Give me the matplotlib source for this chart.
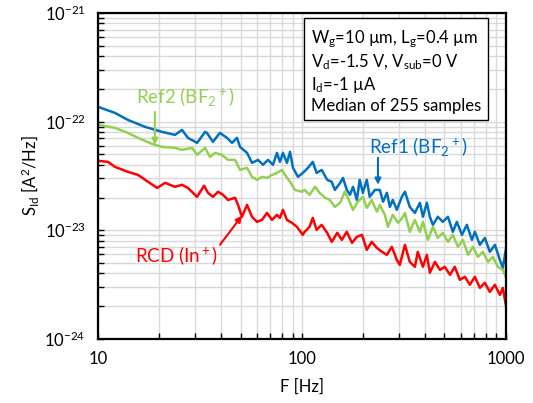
import matplotlib
matplotlib.use('Agg')
import matplotlib.pyplot as plt
import matplotlib.ticker as ticker
import numpy as np

plt.rcParams['font.family'] = ['Lato', 'DejaVu Sans']
plt.rcParams['mathtext.fontset'] = 'custom'
plt.rcParams['mathtext.rm'] = 'Lato'
plt.rcParams['mathtext.it'] = 'Lato'
plt.rcParams['mathtext.bf'] = 'Lato:bold'

# Ref1 (BF2+), blue
f_ref1 = [10, 12.1, 14.0, 17.0, 20.6, 23.85, 25.8, 27.6, 30.6, 33.5, 34.2, 36.6, 39.6, 42.9,
          45.4, 48.0, 49.7, 53.8, 56.9, 60.9, 64.4, 68.1, 72.1, 75.4, 78.0, 80.7, 84.4, 87.4,
          90.4, 95.6, 101, 107, 113, 118, 125, 133, 140, 145, 154, 159, 166, 172, 178, 186,
          192, 199, 208, 215, 228, 241, 250, 261, 270, 279, 292, 309, 320, 338, 358, 379,
          392, 410, 424, 439, 464, 491, 520, 550, 575, 609, 644, 682, 705, 746, 789, 835,
          884, 935, 967, 1000]
s_ref1 = [13.65, 12.02, 10.36, 8.94, 8.04, 7.54, 8.38, 7.08, 6.37, 8.04, 7.87, 6.51, 7.87, 7.08,
          6.37, 7.08, 5.85, 5.15, 4.17, 4.44, 4.00, 4.44, 4.00, 5.15, 4.26, 5.15, 4.17, 5.26,
          3.75, 3.10, 3.37, 3.75, 4.26, 3.37, 3.59, 2.91, 2.79, 2.35, 2.73, 3.03, 2.35, 2.12,
          2.51, 1.90, 2.91, 2.21, 2.91, 2.03, 2.35, 2.35, 1.83, 2.21, 1.64, 1.90, 1.54, 2.03,
          2.26, 1.64, 1.445, 1.79, 1.33, 1.79, 1.33, 1.121, 1.33, 1.195, 1.33, 0.967, 1.195,
          0.907, 1.121, 0.816, 0.967, 0.734, 0.851, 0.633, 0.734, 0.534, 0.451, 0.660]

# Ref2 (BF2+), green
f_ref2 = [10, 12.1, 14.0, 15.7, 18.4, 20.6, 23.85, 25.8, 28.9, 30.6, 33.5, 35.4, 37.5, 40.5,
          43.4, 47.0, 49.7, 53.8, 56.9, 60.2, 63.7, 67.4, 71.3, 75.4, 79.8, 82.6, 87.4, 92.4,
          100, 103, 109, 116, 122, 130, 137, 145, 154, 162, 168, 178, 188, 199, 208, 220,
          233, 241, 255, 264, 279, 296, 313, 320, 338, 358, 379, 392, 415, 439, 464, 491,
          520, 550, 582, 616, 652, 690, 729, 772, 817, 864, 914, 967, 1000]
s_ref2 = [9.32, 8.75, 7.87, 7.08, 6.23, 5.85, 5.73, 5.49, 5.73, 4.94, 5.73, 4.73, 5.15, 4.94,
          4.44, 4.44, 3.59, 3.75, 3.10, 2.91, 3.10, 3.03, 3.23, 3.37, 3.59, 3.23, 2.79, 2.35,
          2.26, 2.35, 2.12, 2.51, 2.21, 1.99, 1.90, 1.64, 1.79, 2.26, 1.99, 1.54, 1.83, 2.03,
          1.61, 1.90, 1.48, 1.71, 1.386, 1.075, 1.386, 1.17, 1.33, 1.445, 0.967, 1.246, 0.967,
          1.195, 0.816, 1.075, 0.851, 0.946, 0.782, 0.907, 0.704, 0.816, 0.594, 0.704, 0.569,
          0.633, 0.512, 0.569, 0.461, 0.432, 0.373]

# RCD (In+), red
f_rcd = [10, 11.2, 12.1, 14.0, 15.7, 17.6, 19.5, 21.3, 23.85, 25.8, 27.6, 30.6, 33.1, 34.6,
         36.6, 38.75, 41.0, 43.4, 47.0, 48.6, 50.8, 53.8, 56.9, 60.2, 63.7, 67.4, 71.3, 75.4,
         78.0, 80.7, 84.4, 89.3, 94.5, 101, 103, 109, 113, 118, 125, 133, 140, 149, 157, 166,
         176, 186, 197, 208, 220, 233, 247, 261, 276, 292, 302, 320, 338, 358, 370, 392, 410,
         424, 449, 475, 502, 532, 562, 595, 630, 666, 705, 746, 789, 835, 884, 935, 967, 1000]
s_rcd = [4.35, 4.26, 3.83, 3.45, 3.23, 2.79, 2.45, 2.73, 2.51, 2.62, 2.45, 2.03, 2.57, 2.21,
         2.03, 2.26, 2.12, 1.90, 1.99, 1.71, 1.33, 1.71, 1.33, 1.195, 1.246, 1.445, 1.246, 1.386,
         1.30, 1.54, 1.246, 1.17, 1.075, 0.907, 0.967, 1.075, 1.30, 1.009, 1.121, 0.946, 0.782,
         0.946, 0.816, 0.967, 0.766, 0.870, 0.907, 0.660, 0.782, 0.689, 0.633, 0.594, 0.704,
         0.534, 0.480, 0.734, 0.512, 0.461, 0.633, 0.461, 0.594, 0.406, 0.512, 0.432, 0.461,
         0.389, 0.461, 0.350, 0.373, 0.315, 0.373, 0.295, 0.328, 0.271, 0.315, 0.254, 0.295, 0.206]

x_ticks = [10, 100, 1000]
x_tick_labels = ['10', '100', '1000']
y_ticks = [1e-24, 1e-23, 1e-22, 1e-21]

blue = '#0070C0'
green = '#92D050'
red = '#FF0000'

fig = plt.figure(figsize=(5.33, 4.03), dpi=100)
ax = fig.add_axes([0.184, 0.159, 0.765, 0.809])

ax.plot(f_ref1, np.array(s_ref1) * 1e-23, color=blue, lw=1.8)
ax.plot(f_ref2, np.array(s_ref2) * 1e-23, color=green, lw=1.8)
ax.plot(f_rcd, np.array(s_rcd) * 1e-23, color=red, lw=1.8)

ax.set_xscale('log')
ax.set_yscale('log')
ax.set_xlim(10, 1000)
ax.set_ylim(1e-24, 1e-21)

ax.set_xticks(x_ticks, labels=x_tick_labels)
ax.set_yticks(y_ticks)
ax.xaxis.set_minor_locator(ticker.LogLocator(base=10, subs=np.arange(2, 10)))
ax.xaxis.set_minor_formatter(ticker.NullFormatter())
ax.yaxis.set_minor_locator(ticker.LogLocator(base=10, subs=np.arange(2, 10)))
ax.yaxis.set_minor_formatter(ticker.NullFormatter())

ax.grid(True, which='both', color='#d9d9d9', lw=1.0)
ax.set_axisbelow(True)
ax.tick_params(which='both', direction='in', length=4, width=1, color='black')
ax.tick_params(which='minor', labelleft=False, labelbottom=False)
ax.tick_params(which='major', labelsize=12, pad=9)
for s in ax.spines.values():
    s.set_linewidth(1.6)
    s.set_color('black')

ax.set_xlabel('F [Hz]', fontsize=12, labelpad=8)
ax.set_ylabel('S$_{Id}$ [A$^2$/Hz]', fontsize=12, labelpad=2)

# annotations: arrow head on the curve, text offset in pixels
ax.annotate('', xy=(19.0, 6.1e-23), xytext=(0, 33), textcoords='offset pixels',
            arrowprops=dict(arrowstyle='-|>', color=green, lw=1.5, shrinkA=0, shrinkB=0,
                            mutation_scale=9))
ax.annotate('Ref2 (BF$_2$$^+$)', xy=(19.0, 6.1e-23), xytext=(30, 48),
            textcoords='offset pixels', ha='center', va='center', color=green, fontsize=13.5)

ax.annotate('', xy=(236, 2.62e-23), xytext=(0, 27), textcoords='offset pixels',
            arrowprops=dict(arrowstyle='-|>', color=blue, lw=1.5, shrinkA=0, shrinkB=0,
                            mutation_scale=9))
ax.annotate('Ref1 (BF$_2$$^+$)', xy=(236, 2.62e-23), xytext=(40, 38),
            textcoords='offset pixels', ha='center', va='center', color=blue, fontsize=13.5)

ax.annotate('', xy=(50.8, 1.36e-23), xytext=(-22, -29), textcoords='offset pixels',
            arrowprops=dict(arrowstyle='-|>', color=red, lw=1.5, shrinkA=0, shrinkB=0,
                            mutation_scale=9))
ax.annotate('RCD (In$^+$)', xy=(50.8, 1.36e-23), xytext=(-66, -40),
            textcoords='offset pixels', ha='center', va='center', color=red, fontsize=13.5)

info = ('W$_g$=10 µm, L$_g$=0.4 µm\n'
        'V$_d$=-1.5 V, V$_{sub}$=0 V\n'
        'I$_d$=-1 µA\n'
        'Median of 255 samples')
ax.text(0.522, 0.953, info, transform=ax.transAxes, ha='left', va='top', fontsize=12,
        linespacing=1.2,
        bbox=dict(boxstyle='square,pad=0.4', fc='white', ec='black', lw=1.0))

fig.savefig('out.png', dpi=100)
